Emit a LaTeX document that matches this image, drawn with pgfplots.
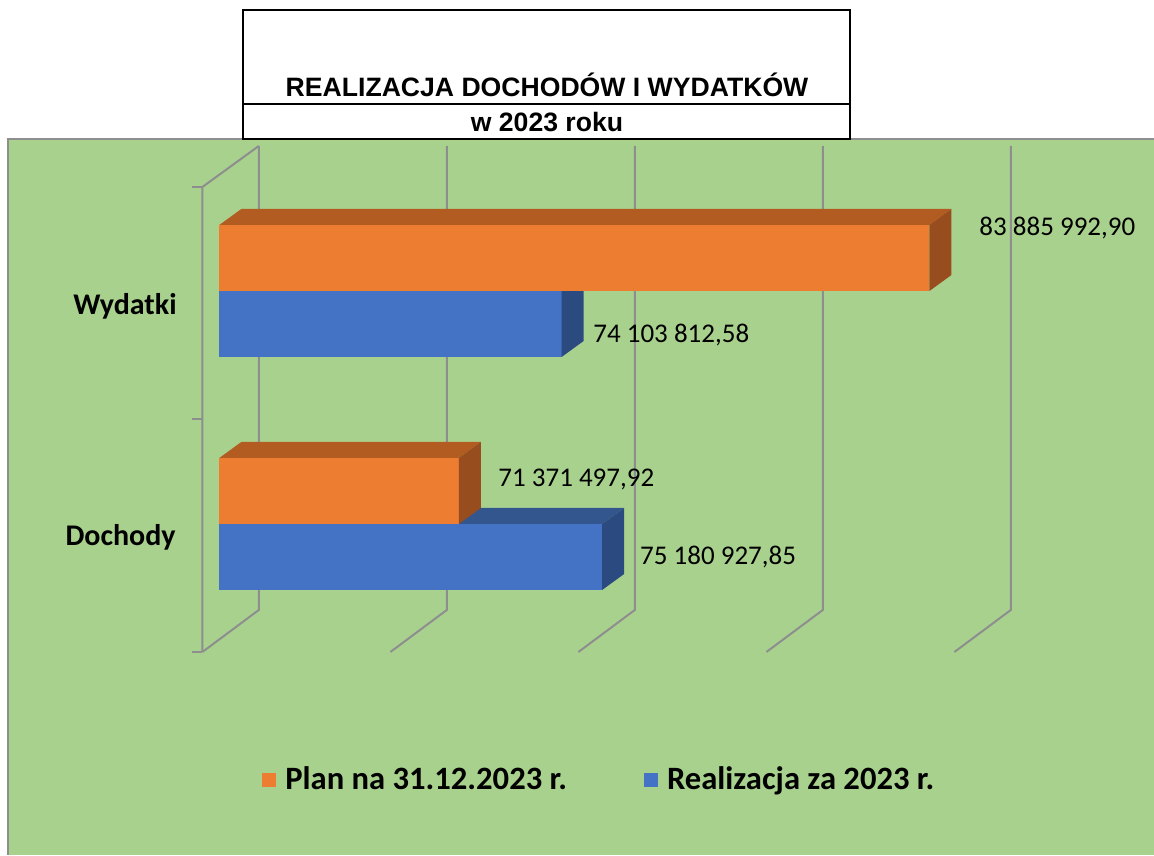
\documentclass[border=0pt]{standalone}
\usepackage{pgfplots}
\pgfplotsset{compat=1.18}
\usepackage{fontspec}
\setmainfont{Carlito}
\newfontfamily\titlefont{Liberation Sans}
\definecolor{bg}{HTML}{A9D18E}
\definecolor{orF}{HTML}{ED7D31}
\definecolor{orT}{HTML}{B35C22}
\definecolor{orS}{HTML}{974D1D}
\definecolor{blF}{HTML}{4472C4}
\definecolor{blT}{HTML}{33568F}
\definecolor{blS}{HTML}{2A4A80}
\definecolor{gridc}{HTML}{8E8E8E}

% 3D bar: #1 value (mln), #2 y low, #3 y high, #4 front, #5 top, #6 side
\newcommand\barthreed[6]{%
  \pgfmathsetmacro\xb{#1+0.585}%
  \pgfmathsetmacro\ylt{#2+16}%
  \pgfmathsetmacro\yht{#3+16}%
  \edef\doplot{%
   \noexpand\addplot[fill=#4,draw=none,forget plot] coordinates {(65,#2) (#1,#2) (#1,#3) (65,#3)};
   \noexpand\addplot[fill=#5,draw=none,forget plot] coordinates {(65,#3) (#1,#3) (\xb,\yht) (65.585,\yht)};
   \noexpand\addplot[fill=#6,draw=none,forget plot] coordinates {(#1,#2) (#1,#3) (\xb,\yht) (\xb,\ylt)};
  }\doplot}

\begin{document}
\begin{tikzpicture}[x=0.5pt,y=0.5pt]
\useasboundingbox (0,0) rectangle (1154,855);
% chart area
\fill[bg] (8,0) rectangle (1154,716);
\draw[gridc,line width=0.6pt] (8,0) -- (8,716) -- (1154,716);
% title box
\fill[white] (243,716) rectangle (850,845);
\draw[black,line width=0.9pt] (243,716) rectangle (850,845);
\draw[black,line width=0.9pt] (243,751) -- (850,751);
\node[font=\titlefont\bfseries\fontsize{13.3}{15}\selectfont,anchor=base] at (547,758) {REALIZACJA DOCHODÓW I WYDATKÓW};
\node[font=\titlefont\bfseries\fontsize{13.3}{15}\selectfont,anchor=base] at (547,723.5) {w 2023 roku};

\begin{axis}[
  at={(100.25pt,101.5pt)}, anchor=south west,
  scale only axis, width=413.6pt, height=255pt,
  xmin=64.5, xmax=86.5, ymin=0, ymax=510,
  hide axis, clip=false,
  legend columns=2,
  legend style={at={(0.0743,-0.251)}, anchor=west, draw=none, fill=none,
    inner sep=0pt, font=\bfseries\fontsize{16.3}{18}\selectfont,
    nodes={inner sep=4.5pt},
    /tikz/every even column/.append style={column sep=34pt}},
  legend image code/.code={\path[#1] (0pt,-3.6pt) rectangle (7pt,3.6pt);},
]
% gridlines (65, 70, 75, 80, 85 mln)
\addplot[gridc,line width=1pt,forget plot] coordinates {(64.55,0) (66.05,42) (66.05,506)};
\addplot[gridc,line width=1pt,forget plot] coordinates {(69.55,0) (71.05,42) (71.05,506)};
\addplot[gridc,line width=1pt,forget plot] coordinates {(74.55,0) (76.05,42) (76.05,506)};
\addplot[gridc,line width=1pt,forget plot] coordinates {(79.55,0) (81.05,42) (81.05,506)};
\addplot[gridc,line width=1pt,forget plot] coordinates {(84.55,0) (86.05,42) (86.05,506)};
% left wall
\addplot[gridc,line width=1pt,forget plot] coordinates {(64.55,0) (64.55,465) (66.05,506)};
\addplot[gridc,line width=1pt,forget plot] coordinates {(64.28,0) (64.55,0)};
\addplot[gridc,line width=1pt,forget plot] coordinates {(64.28,232.5) (64.55,232.5)};
\addplot[gridc,line width=1pt,forget plot] coordinates {(64.28,465) (64.55,465)};

% Wydatki: Realizacja (blue), Plan (orange)
\barthreed{74.10381258}{295}{361}{blF}{blT}{blS}
\barthreed{83.88599290}{361}{427}{orF}{orT}{orS}
% Dochody: Realizacja (blue), Plan (orange)
\barthreed{75.18092785}{62}{128}{blF}{blT}{blS}
\barthreed{71.37149792}{128}{194}{orF}{orT}{orS}

% data labels
\node[anchor=base west,inner sep=0pt,font=\fontsize{13.5}{15}\selectfont] at (axis cs:85.205,416) {83 885 992,90};
\node[anchor=base west,inner sep=0pt,font=\fontsize{13.5}{15}\selectfont] at (axis cs:74.938,309) {74 103 812,58};
\node[anchor=base west,inner sep=0pt,font=\fontsize{13.5}{15}\selectfont] at (axis cs:72.412,165) {71 371 497,92};
\node[anchor=base west,inner sep=0pt,font=\fontsize{13.5}{15}\selectfont] at (axis cs:76.183,87) {75 180 927,85};

% category labels
\node[anchor=east,inner sep=0pt,font=\bfseries\fontsize{15}{17}\selectfont] at (axis cs:63.875,346) {Wydatki};
\node[anchor=east,inner sep=0pt,font=\bfseries\fontsize{15}{17}\selectfont] at (axis cs:63.85,115) {Dochody};

\addlegendimage{fill=orF,draw=none}
\addlegendentry{Plan na 31.12.2023 r.}
\addlegendimage{fill=blF,draw=none}
\addlegendentry{Realizacja za 2023 r.}
\end{axis}
\end{tikzpicture}
\end{document}
